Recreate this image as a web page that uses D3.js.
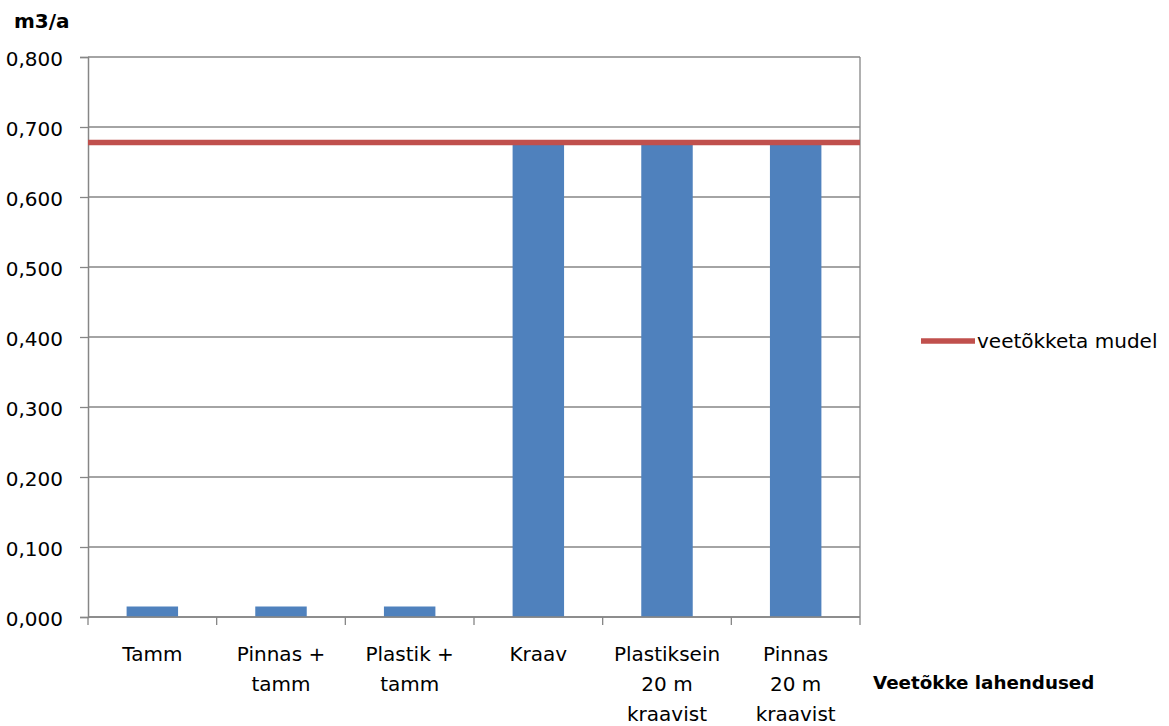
<!DOCTYPE html>
<html><head><meta charset="utf-8">
<script src="https://cdn.jsdelivr.net/npm/d3@7/dist/d3.min.js"></script>
<style>body{margin:0;background:#fff}svg{display:block}text{font-family:"DejaVu Sans",sans-serif}</style>
</head><body>
<svg id="c" width="1169" height="726"></svg>
<script>
const categories = ["Tamm", "Pinnas +\ntamm", "Plastik +\ntamm", "Kraav", "Plastiksein\n20 m\nkraavist", "Pinnas\n20 m\nkraavist"];
const barValues = [0.015, 0.015, 0.015, 0.677, 0.677, 0.677];
const modelValue = 0.678;
const yTicks = [0, 0.1, 0.2, 0.3, 0.4, 0.5, 0.6, 0.7, 0.8];
const yLabel = "m3/a";
const xLabel = "Veetõkke lahendused";
const legendLabel = "veetõkketa mudel";

const svg = d3.select("#c");
const L = 88, R = 860, T = 57, B = 617;
const y = d3.scaleLinear().domain([0, 0.8]).range([B, T]);
const x = d3.scaleBand().domain(categories).range([L, R]).paddingInner(0.6).paddingOuter(0.3);
const step = x.step();
const grid = "#868686";
const fmt = v => d3.format(".3f")(v).replace(".", ",");

// gridlines
svg.append("g").selectAll("line").data(yTicks).join("line")
  .attr("x1", L).attr("x2", R).attr("y1", d => y(d)).attr("y2", d => y(d))
  .attr("stroke", grid).attr("stroke-width", 1.3);
// right border
svg.append("line").attr("x1", R).attr("x2", R).attr("y1", T).attr("y2", B)
  .attr("stroke", grid).attr("stroke-width", 1.3);

// y axis
const yAxis = d3.axisLeft(y).tickValues(yTicks).tickFormat(fmt).tickSize(8).tickPadding(17);
const gy = svg.append("g").attr("transform", `translate(${L},0)`).call(yAxis);
gy.select(".domain").attr("stroke", grid).attr("stroke-width", 1.5);
gy.selectAll(".tick line").attr("stroke", grid).attr("stroke-width", 1.3);
gy.selectAll(".tick text").attr("font-size", 20).attr("fill", "#000").attr("font-family", "DejaVu Sans").attr("dy", "8px");

// bars
svg.append("g").selectAll("rect").data(categories).join("rect")
  .attr("x", d => x(d)).attr("width", x.bandwidth())
  .attr("y", (d, i) => y(barValues[i])).attr("height", (d, i) => y(0) - y(barValues[i]))
  .attr("fill", "#4F81BD");

// x axis line and ticks
svg.append("line").attr("x1", L).attr("x2", R).attr("y1", B).attr("y2", B)
  .attr("stroke", grid).attr("stroke-width", 1.5);
const bounds = [x(categories[0]) + x.bandwidth() / 2 - step / 2].concat(categories.map(c => x(c) + x.bandwidth() / 2 + step / 2));
svg.append("g").selectAll("line").data(bounds).join("line")
  .attr("x1", d => d).attr("x2", d => d).attr("y1", B).attr("y2", B + 8)
  .attr("stroke", grid).attr("stroke-width", 1.3);

// category labels
const lab = svg.append("g").selectAll("text").data(categories).join("text")
  .attr("text-anchor", "middle").attr("font-size", 20).attr("fill", "#000")
  .attr("transform", d => `translate(${x(d) + x.bandwidth() / 2},661)`);
lab.selectAll("tspan").data(d => d.split("\n")).join("tspan")
  .attr("x", 0).attr("y", (d, i) => i * 30).text(d => d);

// model line
svg.append("line").attr("x1", L).attr("x2", R).attr("y1", y(modelValue)).attr("y2", y(modelValue))
  .attr("stroke", "#C0504D").attr("stroke-width", 5.5);

// titles
svg.append("text").attr("x", 14).attr("y", 28).attr("font-size", 20).attr("font-weight", "bold").attr("fill", "#000").text(yLabel);
svg.append("text").attr("x", 873).attr("y", 689).attr("font-size", 18.3).attr("font-weight", "bold").attr("fill", "#000").text(xLabel);

// legend
svg.append("line").attr("x1", 921).attr("x2", 975).attr("y1", 341).attr("y2", 341)
  .attr("stroke", "#C0504D").attr("stroke-width", 5.5);
svg.append("text").attr("x", 977).attr("y", 348).attr("font-size", 20).attr("fill", "#000").text(legendLabel);
</script>
</body></html>
